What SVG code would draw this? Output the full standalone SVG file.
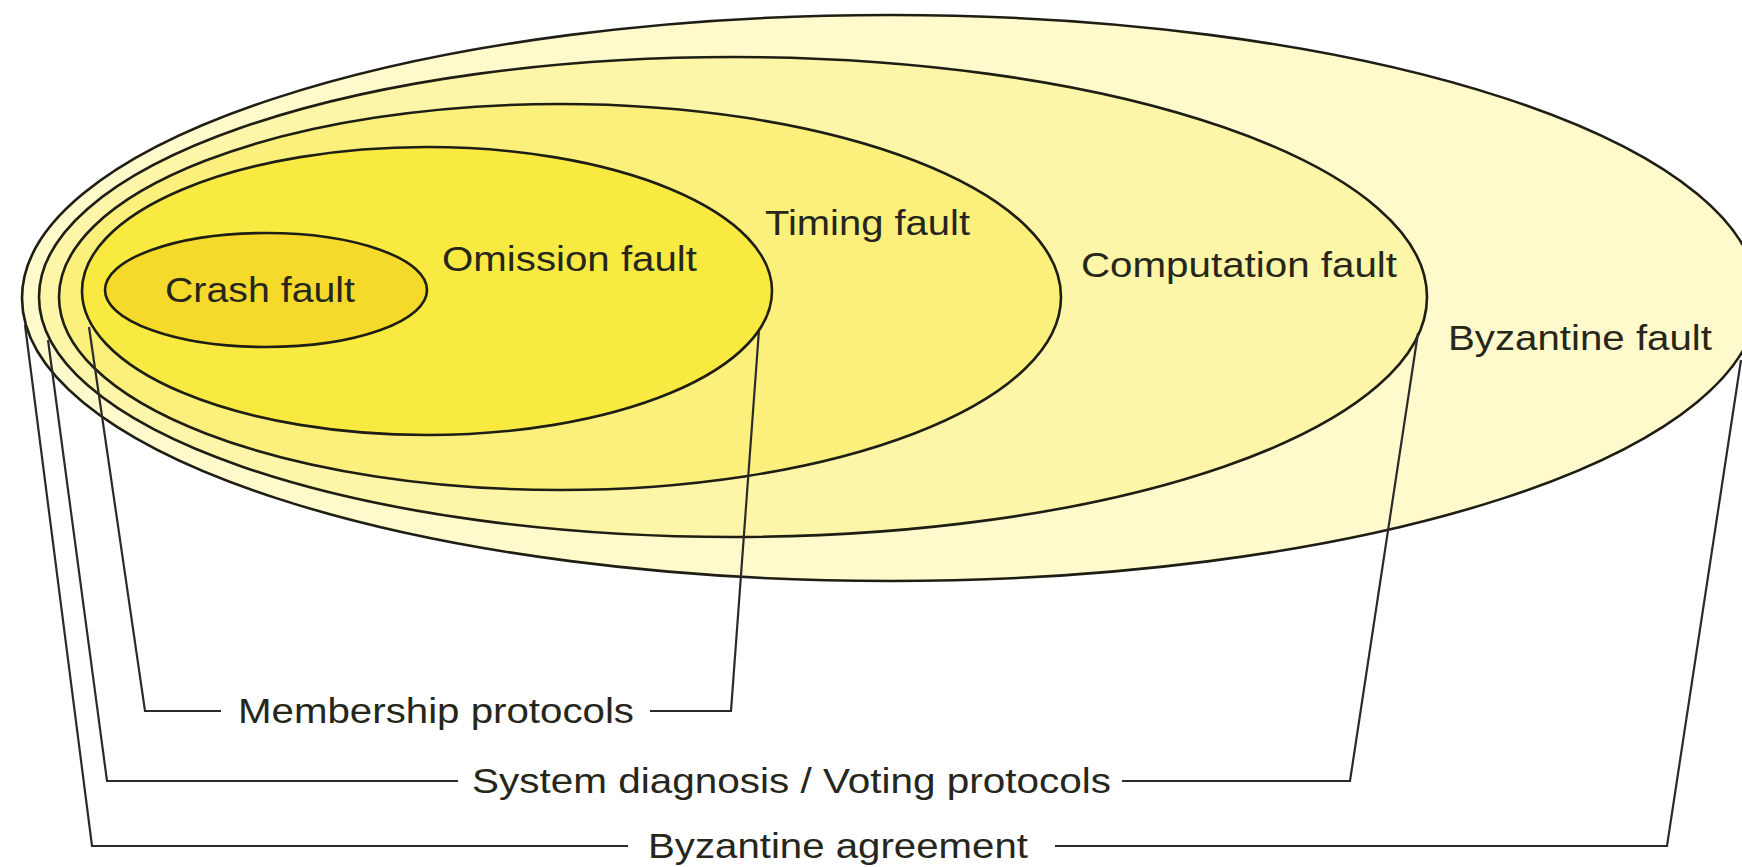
<svg xmlns="http://www.w3.org/2000/svg" width="1742" height="867" viewBox="0 0 1742 867">
<style>
  .ring { stroke: #1e1e14; stroke-width: 2.6; }
  .lbl { font-family: "Liberation Sans", Arial, sans-serif; font-size: 35px; fill: #26261a; }
  .conn { fill: none; stroke: #2a2a2a; stroke-width: 2.2; stroke-linejoin: miter; }
</style>
<rect x="0" y="0" width="1742" height="867" fill="#ffffff"/>
<g id="byzantine-fault">
  <ellipse class="ring" cx="890" cy="298" rx="868" ry="283" fill="#fefacb"/>
  <text class="lbl" x="1448" y="350" textLength="264" lengthAdjust="spacingAndGlyphs">Byzantine fault</text>
</g>
<g id="computation-fault">
  <ellipse class="ring" cx="733" cy="297" rx="694" ry="240" fill="#fdf6a8"/>
  <text class="lbl" x="1081" y="277" textLength="316" lengthAdjust="spacingAndGlyphs">Computation fault</text>
</g>
<g id="timing-fault">
  <ellipse class="ring" cx="560" cy="297" rx="501" ry="193" fill="#fbf07c"/>
  <text class="lbl" x="765" y="235" textLength="205" lengthAdjust="spacingAndGlyphs">Timing fault</text>
</g>
<g id="omission-fault">
  <ellipse class="ring" cx="427" cy="291" rx="345" ry="144" fill="#f9ea42"/>
  <text class="lbl" x="442" y="271" textLength="255" lengthAdjust="spacingAndGlyphs">Omission fault</text>
</g>
<g id="crash-fault">
  <ellipse class="ring" cx="266" cy="290" rx="161" ry="57" fill="#f5da2c"/>
  <text class="lbl" x="165" y="302" textLength="190" lengthAdjust="spacingAndGlyphs">Crash fault</text>
</g>
<g id="connectors">
  <polyline class="conn" points="89,327 145,711 221,711"/>
  <polyline class="conn" points="650,711 731,711 759,330"/>
  <polyline class="conn" points="48,340 107,781 458,781"/>
  <polyline class="conn" points="1122,781 1350,781 1418,333"/>
  <polyline class="conn" points="25,325 92,846 628,846"/>
  <polyline class="conn" points="1055,846 1667,846 1741,360"/>
</g>
<g id="membership-protocols">
  <text class="lbl" x="238" y="723" textLength="396" lengthAdjust="spacingAndGlyphs">Membership protocols</text>
</g>
<g id="system-diagnosis-voting">
  <text class="lbl" x="472" y="793" textLength="639" lengthAdjust="spacingAndGlyphs">System diagnosis / Voting protocols</text>
</g>
<g id="byzantine-agreement">
  <text class="lbl" x="648" y="858" textLength="380" lengthAdjust="spacingAndGlyphs">Byzantine agreement</text>
</g>
</svg>
